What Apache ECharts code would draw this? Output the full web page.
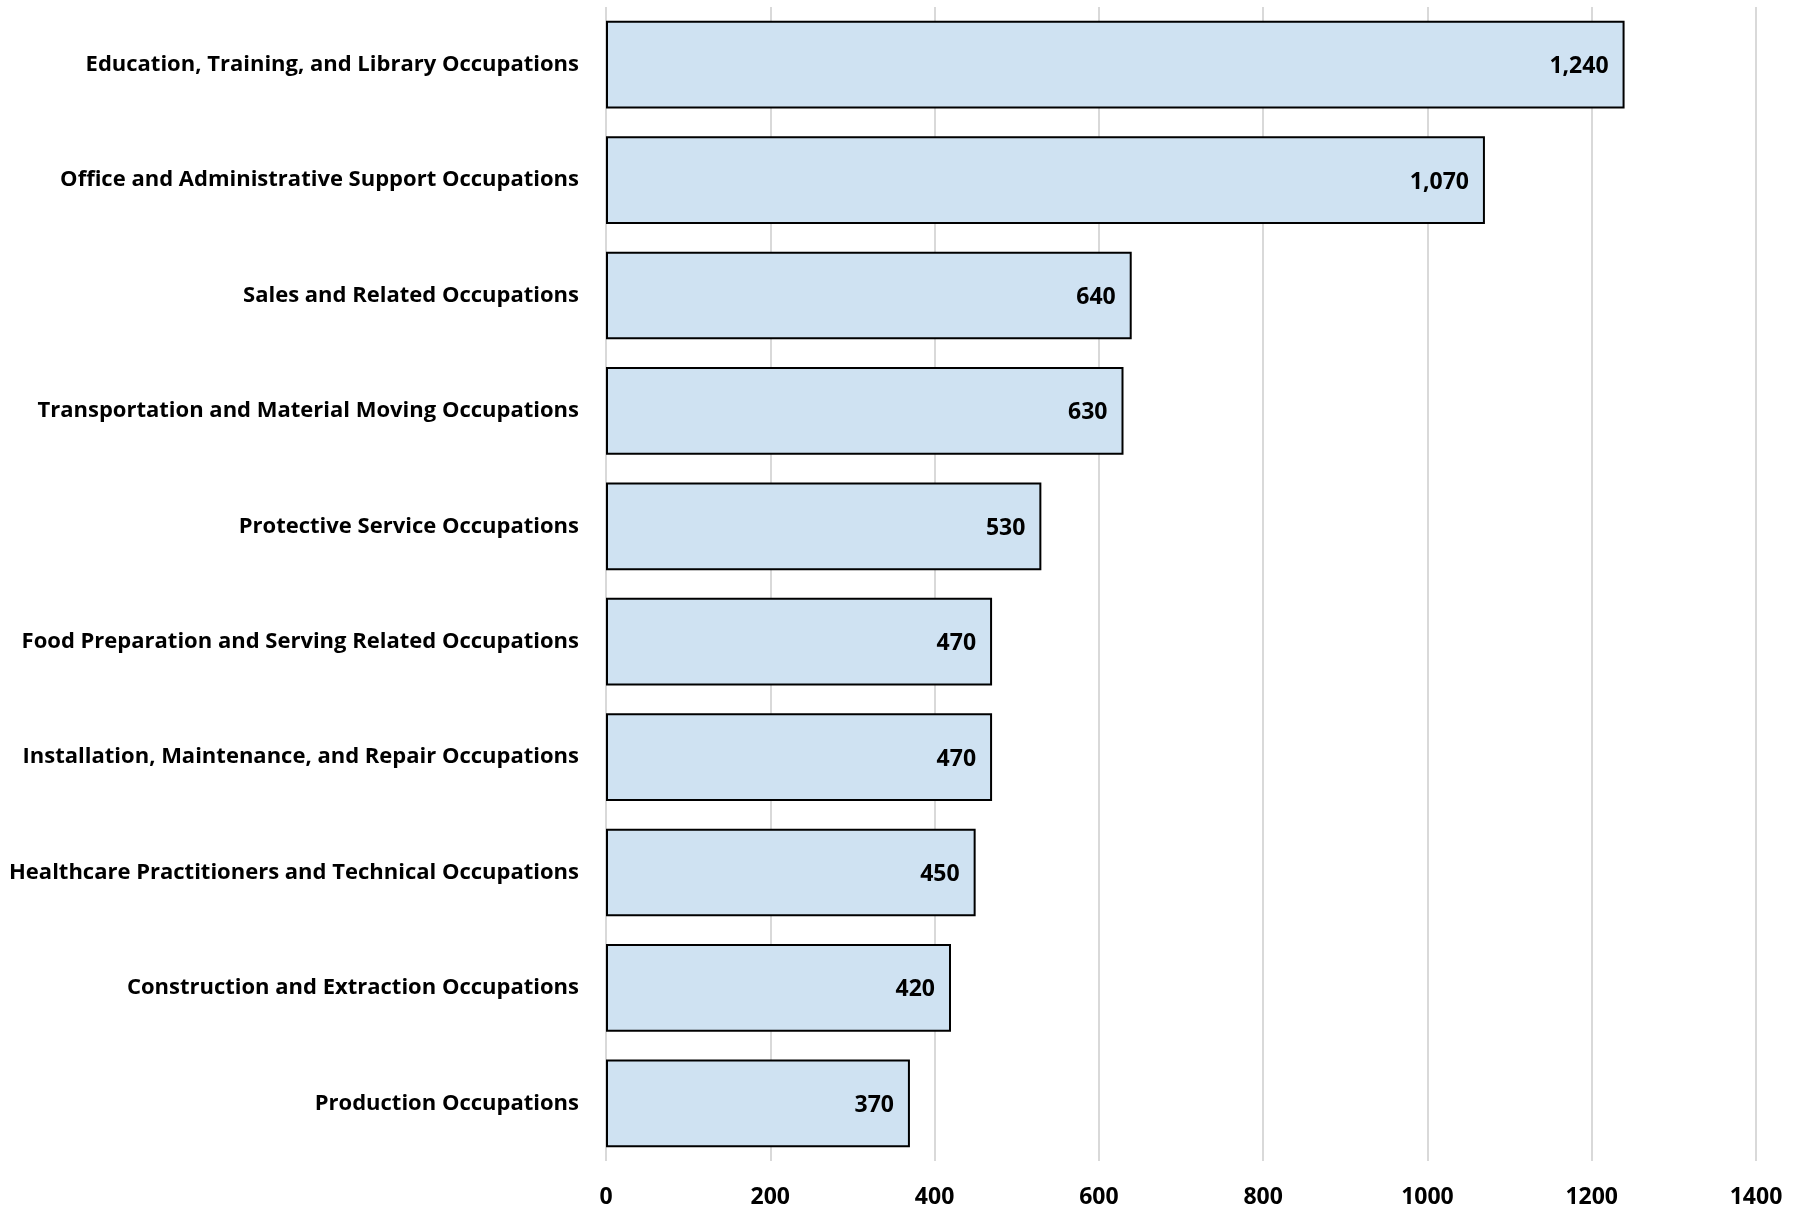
<!DOCTYPE html>
<html><head><meta charset="utf-8">
<script src="https://cdn.jsdelivr.net/npm/echarts@6/dist/echarts.min.js"></script>
<style>html,body{margin:0;padding:0;background:#fff}#c{width:1814px;height:1225px}</style>
</head><body><div id="c"></div>
<script>
const categories = [
  "Education, Training, and Library Occupations",
  "Office and Administrative Support Occupations",
  "Sales and Related Occupations",
  "Transportation and Material Moving Occupations",
  "Protective Service Occupations",
  "Food Preparation and Serving Related Occupations",
  "Installation, Maintenance, and Repair Occupations",
  "Healthcare Practitioners and Technical Occupations",
  "Construction and Extraction Occupations",
  "Production Occupations"
];
const values = [1240, 1070, 640, 630, 530, 470, 470, 450, 420, 370];
const xTicks = [0, 200, 400, 600, 800, 1000, 1200, 1400];

const chart = echarts.init(document.getElementById('c'));
const FONT = '"Open Sans", sans-serif';
chart.setOption({
  animation: false,
  grid: {left: 606, right: 58, top: 7, bottom: 64, containLabel: false},
  xAxis: {
    type: 'value', min: xTicks[0], max: xTicks[xTicks.length-1], interval: 200,
    axisLine: {show: false}, axisTick: {show: false},
    splitLine: {show: true, lineStyle: {color: '#d9d9d9', width: 2}},
    axisLabel: {color: '#000', fontFamily: FONT, fontWeight: 'bold', fontSize: 23, margin: 25,
      formatter: v => String(v)}
  },
  yAxis: {
    type: 'category', data: categories, inverse: true,
    axisLine: {show: false}, axisTick: {show: false},
    axisLabel: {color: '#000', fontFamily: FONT, fontWeight: 'bold', fontSize: 22, margin: 27}
  },
  series: [{
    type: 'bar', data: values, barCategoryGap: '24%',
    itemStyle: {color: '#cfe2f2', borderColor: '#000', borderWidth: 2},
    label: {
      show: true, position: 'insideRight', distance: 16, offset: [0, 2],
      color: '#000', fontFamily: FONT, fontWeight: 'bold', fontSize: 23,
      formatter: p => p.value.toLocaleString('en-US')
    }
  }]
});
</script></body></html>
